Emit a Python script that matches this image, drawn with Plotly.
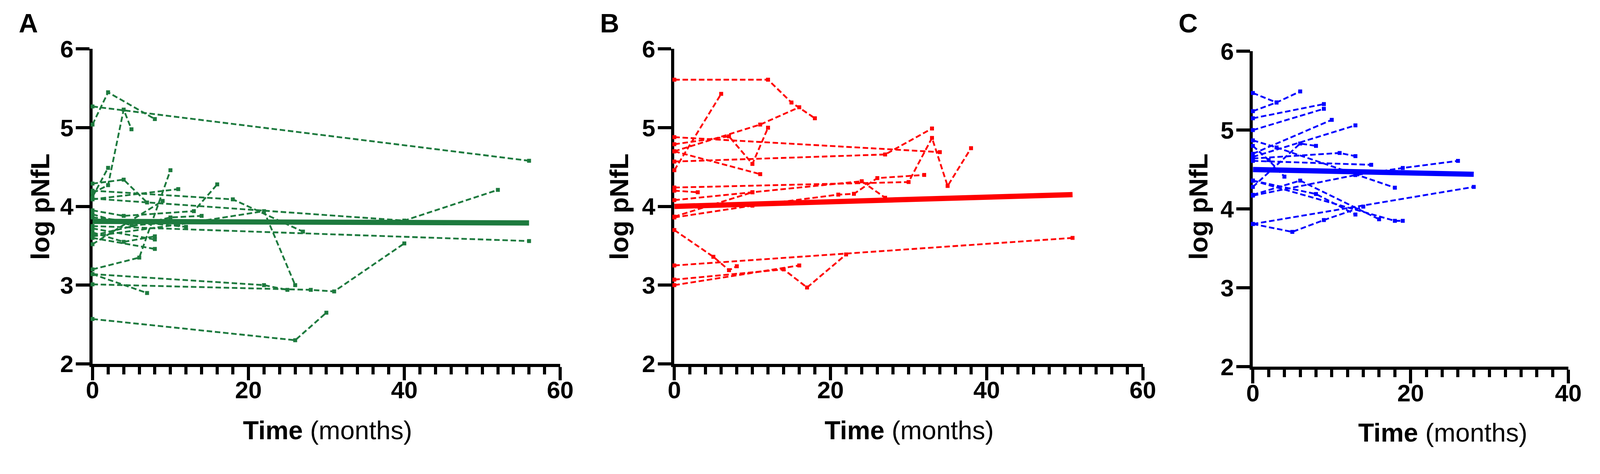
import plotly.graph_objects as go

W, H = 4307, 1214
PX = 0.96   # css px -> screenshot px correction
DY = -25    # vertical nudge of the whole layout (px)

GREEN = "#1d7a3e"
RED = "#ff0000"
BLUE = "#0000ff"

# panel A: individual subjects (months, log pNfL)
A_TIMES = [
    [0, 56], [0, 2, 8], [0, 2, 4, 5], [0, 2], [0, 4, 7], [0, 11],
    [0, 18, 27], [0, 40, 52], [0, 4, 13, 16], [0, 11, 22, 26], [0, 56],
    [0, 6, 10], [0, 22, 25], [0, 28, 31, 40], [0, 7], [0, 26, 30],
    [0, 8], [0, 8], [0, 9], [0, 10, 14], [0, 12], [0, 5, 11], [0, 4, 8],
]
A_VALUES = [
    [5.27, 4.58], [5.04, 5.45, 5.11], [4.17, 4.27, 5.23, 4.98], [4.12, 4.49],
    [4.29, 4.34, 4.05], [4.09, 4.22], [4.20, 4.09, 3.68], [4.10, 3.82, 4.21],
    [3.95, 3.88, 3.94, 4.28], [3.62, 3.77, 3.94, 3.00], [3.75, 3.56],
    [3.20, 3.35, 4.46], [3.14, 3.00, 2.94], [3.01, 2.94, 2.92, 3.53],
    [3.14, 2.90], [2.57, 2.30, 2.65], [3.60, 3.46], [3.72, 3.58], [3.52, 4.07],
    [3.63, 3.86, 3.88], [3.86, 3.74], [3.90, 3.76, 3.80], [3.67, 3.55, 3.62],
]
A_FIT_T = [0, 56]
A_FIT_V = [3.81, 3.79]

# panel B
B_TIMES = [
    [0, 12, 15, 18], [0, 6], [0, 11, 16], [0, 7, 10, 12], [0, 34], [0, 11],
    [0, 27, 33], [0, 30, 33, 35, 38], [0, 3], [0, 10, 24, 27], [0, 10],
    [0, 10, 21, 23, 26, 32], [0, 5, 7, 8], [0, 51], [0, 14, 17, 22], [0, 16],
]
B_VALUES = [
    [5.61, 5.61, 5.32, 5.12], [4.46, 5.43], [4.70, 5.04, 5.26],
    [4.79, 4.89, 4.54, 5.00], [4.88, 4.69], [4.70, 4.41], [4.57, 4.66, 4.99],
    [4.24, 4.31, 4.87, 4.26, 4.74], [4.20, 4.18], [4.08, 4.18, 4.32, 4.11],
    [3.87, 4.18], [3.86, 4.01, 4.15, 4.16, 4.36, 4.40],
    [3.70, 3.36, 3.19, 3.24], [3.25, 3.60], [3.07, 3.20, 2.97, 3.39],
    [3.00, 3.25],
]
B_FIT_T = [0, 51]
B_FIT_V = [4.00, 4.15]

# panel C
C_TIMES = [
    [0, 3], [0, 3, 6], [0, 9], [0, 9], [0, 10], [0, 13], [0, 3, 18],
    [0, 2, 4], [0, 6, 8], [0, 11, 13], [0, 15], [0, 13, 19, 26],
    [0, 6, 16], [0, 8, 13], [0, 18, 19], [0, 28], [0, 5, 9, 14],
]
C_VALUES = [
    [5.47, 5.35], [5.24, 5.35, 5.49], [5.15, 5.33], [5.00, 5.27], [4.70, 5.13],
    [4.66, 5.06], [4.87, 4.78, 4.27], [4.80, 4.62, 4.41], [4.28, 4.83, 4.80],
    [4.64, 4.71, 4.67], [4.61, 4.56], [4.17, 4.43, 4.52, 4.61],
    [4.18, 4.36, 3.87], [4.36, 4.19, 3.93], [4.36, 3.85, 3.85], [3.81, 4.28],
    [3.81, 3.71, 3.86, 4.03],
]
C_FIT_T = [0, 28]
C_FIT_V = [4.50, 4.44]

Y_TICKS = [2, 3, 4, 5, 6]

PANELS = [
    # letter, times, values, fit t, fit v, colour, x max,
    # x domain px, y domain px (bottom, top), letter x, ylabel x, xlabel x, xlabel y
    ("A", A_TIMES, A_VALUES, A_FIT_T, A_FIT_V, GREEN, 60, (234, 1509), (977, 122), 59, 91, 875, 1157),
    ("B", B_TIMES, B_VALUES, B_FIT_T, B_FIT_V, RED, 60, (1820, 3097), (977, 122), 1644, 1669, 2460, 1157),
    ("C", C_TIMES, C_VALUES, C_FIT_T, C_FIT_V, BLUE, 40, (3397, 4257), (985, 128), 3220, 3248, 3915, 1164),
]

TICK_FONT = dict(family="Liberation Sans", size=64 * PX, color="black", weight="bold")


def fy(py):
    # pixel row from the top -> paper fraction
    return 1 - (py + DY) / H


fig = go.Figure()
annotations = []

for i, (letter, times, values, fit_t, fit_v, color, xmax, xdom, ydom, lx, ylx, xlx, xly) in enumerate(PANELS):
    xa = "x" if i == 0 else f"x{i + 1}"
    ya = "y" if i == 0 else f"y{i + 1}"

    for t, v in zip(times, values):
        fig.add_trace(
            go.Scatter(
                x=t,
                y=v,
                mode="lines+markers",
                line=dict(color=color, width=4.8 * PX, dash="14px,7px"),
                marker=dict(symbol="square", size=10.5 * PX, color=color),
                cliponaxis=False,
                showlegend=False,
                xaxis=xa,
                yaxis=ya,
            )
        )

    fig.add_trace(
        go.Scatter(
            x=fit_t,
            y=fit_v,
            mode="lines",
            line=dict(color=color, width=14 * PX),
            showlegend=False,
            xaxis=xa,
            yaxis=ya,
        )
    )

    common = dict(
        showline=True,
        linecolor="black",
        linewidth=8 * PX,
        ticks="outside",
        ticklen=36 * PX,
        tickwidth=8 * PX,
        tickcolor="black",
        showgrid=False,
        zeroline=False,
        tickfont=TICK_FONT,
        layer="below traces",
    )
    fig.update_layout(
        {
            ("xaxis" if i == 0 else f"xaxis{i + 1}"): dict(
                common,
                domain=[xdom[0] / W, xdom[1] / W],
                range=[0, xmax],
                tick0=0,
                dtick=20,
                anchor=ya,
                ticklabelstandoff=-28,
                minor=dict(dtick=2, ticks="outside", ticklen=20 * PX, tickwidth=8 * PX,
                           tickcolor="black", showgrid=False),
            ),
            ("yaxis" if i == 0 else f"yaxis{i + 1}"): dict(
                common,
                domain=[fy(ydom[0]), fy(ydom[1])],
                range=[2, 6],
                tickvals=Y_TICKS,
                anchor=xa,
                ticklabelstandoff=-6,
            ),
        }
    )

    annotations.append(dict(
        text=f"<b>{letter}</b>", x=lx / W, y=fy(52), xref="paper", yref="paper",
        showarrow=False, xanchor="center", yanchor="middle",
        font=dict(family="Liberation Sans", size=71 * PX, color="black"),
    ))
    annotations.append(dict(
        text="<b>log pNfL</b>", x=ylx / W, y=fy(550), xref="paper", yref="paper",
        showarrow=False, xanchor="center", yanchor="middle", textangle=-90,
        font=dict(family="Liberation Sans", size=70 * PX, color="black"),
    ))
    annotations.append(dict(
        text="<b>Time</b> (months)", x=xlx / W, y=fy(xly), xref="paper", yref="paper",
        showarrow=False, xanchor="center", yanchor="middle",
        font=dict(family="Liberation Sans", size=69 * PX, color="black"),
    ))

fig.update_layout(
    autosize=True,
    margin=dict(l=0, r=0, t=0, b=0),
    paper_bgcolor="white",
    plot_bgcolor="white",
    annotations=annotations,
)

# size the figure to the browser window
fig.write_html(
    "out.html",
    config={"displayModeBar": False},
    default_width="100vw",
    default_height="100vh",
    post_script="document.body.style.margin='0';document.body.style.overflow='hidden';",
)
